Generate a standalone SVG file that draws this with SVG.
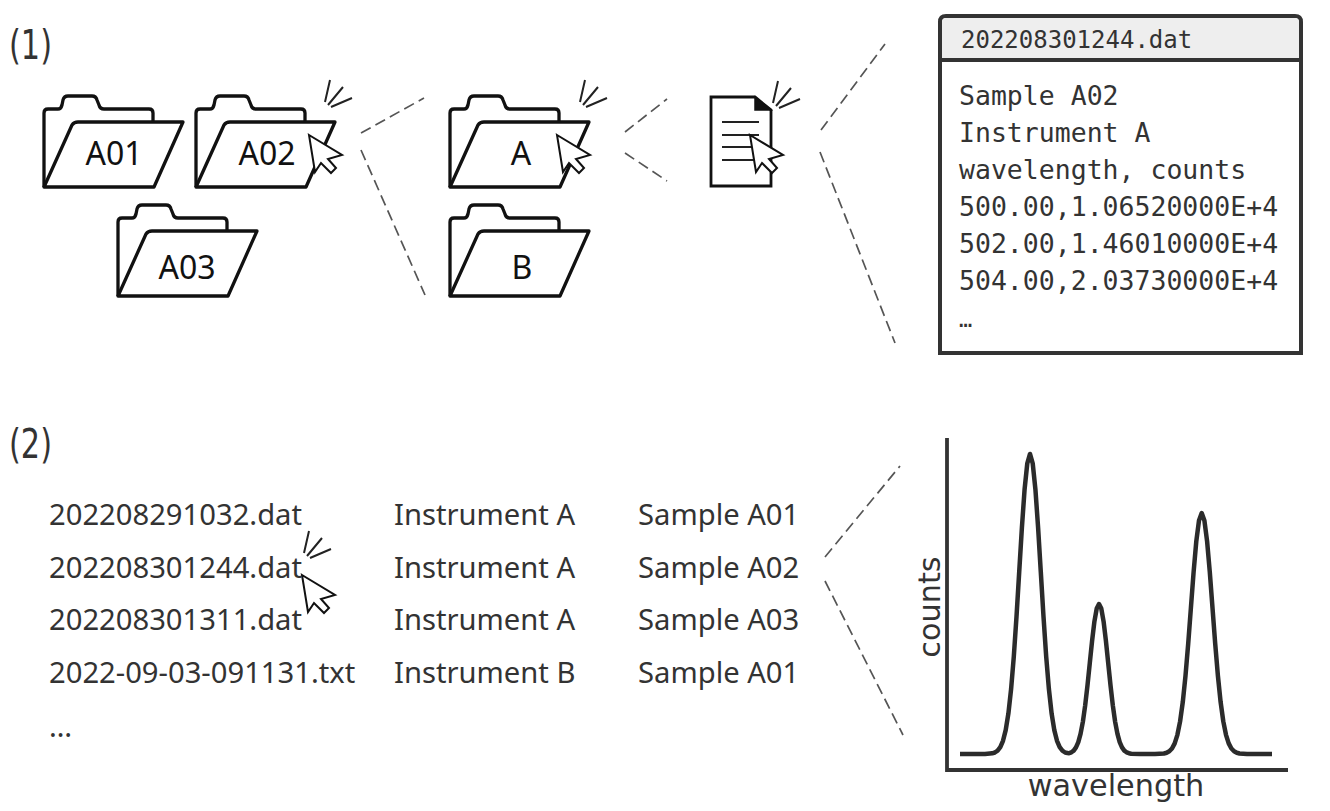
<svg xmlns="http://www.w3.org/2000/svg" width="1330" height="811" viewBox="0 0 1330 811">
<style>
text{font-family:"Noto Sans",sans-serif;fill:#333}
.lab{font-size:32px;fill:#111;text-anchor:middle}
.row{font-size:29.2px}
.mono{font-family:"DejaVu Sans Mono",monospace;font-size:26.500px}
.num{font-family:"DejaVu Sans",sans-serif;font-size:41px}
.ax{font-family:"DejaVu Sans",sans-serif;font-size:30.300px}
.conn{fill:none;stroke:#555;stroke-width:1.7;stroke-dasharray:11 5.5}
.fb{fill:#fff;stroke:#111;stroke-width:3.300;stroke-linejoin:round}
.ln{fill:none;stroke:#222;stroke-width:2}
.curve{fill:none;stroke:#2b2b2b;stroke-width:4.500;stroke-linejoin:round}
.axis{fill:none;stroke:#333;stroke-width:3.800}
</style>
<defs>
<g id="folder">
<path class="fb" d="M0 91V17Q0 13 4 13H14Q17 13 18 9L19 4Q20 0 24 0H48Q52 0 53 4L55 9Q56 13 60 13H105Q109 13 109 17V26"/>
<path class="fb" d="M0 91L28 29Q30 26 34 26H139L110 91Z"/>
</g>
<path id="cursor" d="M0 0L33 20L19 24L27 33L22 38L12 28L6 37Z" fill="#fff" stroke="#111" stroke-width="2"/>
<path id="click" class="ln" d="M0 0L5-22M3 3L18-15M6 5L27-4"/>
</defs>
<text class="num" x="9" y="59" textLength="43" lengthAdjust="spacingAndGlyphs">(1)</text>
<text class="num" x="9" y="458" textLength="43" lengthAdjust="spacingAndGlyphs">(2)</text>
<g id="connectors">
<path class="conn" d="M361 133L424 98M361 150L425 295M625 132L667 99M625 153L667 181M821 130L885 44M820 152L895 343M825 557L900 466M825 581L903 735"/>
</g>
<g id="folder-a01"><use href="#folder" transform="translate(44 96)"/><text class="lab" x="114" y="165">A01</text></g>
<g id="folder-a02"><use href="#folder" transform="translate(196 96)"/><text class="lab" x="267" y="165">A02</text><use href="#cursor" transform="translate(309 135)"/><use href="#click" transform="translate(325 102)"/></g>
<g id="folder-a03"><use href="#folder" transform="translate(118 205)"/><text class="lab" x="187" y="279">A03</text></g>
<g id="folder-a"><use href="#folder" transform="translate(450 96)"/><text class="lab" x="521" y="165">A</text><use href="#cursor" transform="translate(557 135)"/><use href="#click" transform="translate(580 102)"/></g>
<g id="folder-b"><use href="#folder" transform="translate(450 205)"/><text class="lab" x="522" y="279">B</text></g>
<g id="document">
<path d="M711 97H755L771 110V186H711Z" fill="#fff" stroke="#111" stroke-width="2.800"/>
<path d="M755 97L771 110H755Z" fill="#111" stroke="#111" stroke-width="1.500"/>
<path d="M722 122H759M722 135H759M722 147H759M722 160H759" fill="none" stroke="#222" stroke-width="2"/>
<use href="#cursor" transform="translate(750 135)"/><use href="#click" transform="translate(773 103)"/>
</g>
<g id="file-box">
<path d="M940 353V22Q940 16 946 16H1295Q1301 16 1301 22V353Z" fill="#fff" stroke="#333" stroke-width="4"/>
<path d="M942 60V22Q942 18 946 18H1295Q1299 18 1299 22V60Z" fill="#eee"/>
<path d="M940 60H1301" stroke="#333" stroke-width="4" fill="none"/>
<text class="mono" style="font-size:24px" x="961" y="48">202208301244.dat</text>
<text class="mono" x="959" y="105">Sample A02</text>
<text class="mono" x="959" y="142">Instrument A</text>
<text class="mono" x="959" y="179">wavelength, counts</text>
<text class="mono" x="959" y="215.500">500.00,1.06520000E+4</text>
<text class="mono" x="959" y="252.500">502.00,1.46010000E+4</text>
<text class="mono" x="959" y="289.500">504.00,2.03730000E+4</text>
<text class="mono" x="959" y="327" style="font-size:22px">…</text>
</g>
<g id="file-table">
<text class="row" x="49" y="525">202208291032.dat</text><text class="row" x="394" y="525">Instrument A</text><text class="row" x="638" y="525">Sample A01</text>
<text class="row" x="49" y="578">202208301244.dat</text><text class="row" x="394" y="578">Instrument A</text><text class="row" x="638" y="578">Sample A02</text>
<text class="row" x="49" y="630">202208301311.dat</text><text class="row" x="394" y="630">Instrument A</text><text class="row" x="638" y="630">Sample A03</text>
<text class="row" x="49" y="683">2022-09-03-091131.txt</text><text class="row" x="394" y="683">Instrument B</text><text class="row" x="638" y="683">Sample A01</text>
<text class="row" x="49" y="737">…</text>
<use href="#cursor" transform="translate(302 575)"/><use href="#click" transform="translate(304 553)"/>
</g>
<g id="plot">
<path class="axis" d="M947 438V770H1288"/>
<polyline class="curve" points="960,754 985,754 992.2,753.3 994.9,752.5 997.6,750.7 1000.3,747.2 1003,740.8 1005.7,730.1 1008.4,713.4 1011.1,689.1 1013.8,656.6 1016.5,616.7 1019.2,572 1021.9,527.6 1024.6,489.2 1027.3,463.3 1030,454 1032.7,463.3 1035.4,489.2 1038.1,527.6 1040.8,572 1043.5,616.7 1046.2,656.6 1048.9,689.1 1051.6,713.4 1054.3,730.1 1057,740.8 1059.7,747.2 1062.4,750.7 1065.1,752.5 1067.5,753 1069.1,753.2 1071.4,752.3 1073.7,750.6 1076,747.4 1078.3,742.1 1080.6,733.7 1082.9,721.6 1085.2,705.3 1087.5,685.3 1089.8,663 1092.1,640.8 1094.4,621.6 1096.7,608.6 1099,604 1101.3,608.6 1103.6,621.6 1105.9,640.8 1108.2,663 1110.5,685.3 1112.8,705.3 1115.1,721.6 1117.4,733.7 1119.7,742.1 1122,747.4 1124.3,750.6 1126.6,752.3 1128.9,753.2 1131.2,753.7 1140,754 1155,754 1163.9,753.5 1166.6,752.8 1169.3,751.3 1172,748.5 1174.7,743.4 1177.4,734.8 1180.1,721.4 1182.8,701.9 1185.5,675.7 1188.2,643.7 1190.9,607.8 1193.6,572.1 1196.3,541.3 1199,520.5 1201.7,513 1204.4,520.5 1207.1,541.3 1209.8,572.1 1212.5,607.8 1215.2,643.7 1217.9,675.7 1220.6,701.9 1223.3,721.4 1226,734.8 1228.7,743.4 1231.4,748.5 1234.1,751.3 1236.8,752.8 1239.5,753.5 1247,754 1272,754"/>
<text class="ax" x="1116" y="796" text-anchor="middle">wavelength</text>
<text class="ax" transform="translate(940 607) rotate(-90)" text-anchor="middle">counts</text>
</g>
</svg>
